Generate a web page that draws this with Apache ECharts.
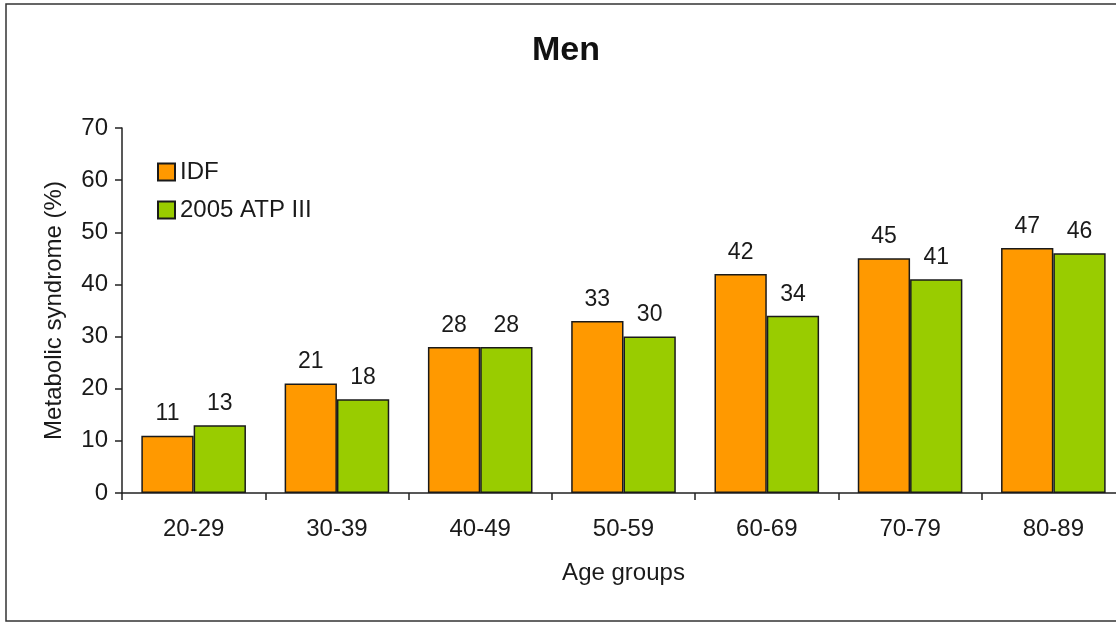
<!DOCTYPE html>
<html>
<head>
<meta charset="utf-8">
<script src="https://cdn.jsdelivr.net/npm/echarts@6/dist/echarts.min.js"></script>
<style>
  html, body { margin: 0; padding: 0; background: #fff; }
  #chart { width: 1116px; height: 623px; }
</style>
</head>
<body>
<div id="chart"></div>
<script>
// Prevalence of metabolic syndrome in men by age group
const ageGroups = ['20-29', '30-39', '40-49', '50-59', '60-69', '70-79', '80-89'];
const idfValues = [11, 21, 28, 33, 42, 45, 47];
const atpValues = [13, 18, 28, 30, 34, 41, 46];
const seriesNames = ['IDF', '2005 ATP III'];

const FONT = '"Liberation Sans", Arial, sans-serif';
const TEXT = '#1a1a1a';

const chart = echarts.init(document.getElementById('chart'));

const valueLabel = {
  show: true,
  position: 'top',
  distance: 10,
  fontFamily: FONT,
  fontSize: 23,
  color: TEXT
};

chart.setOption({
  animation: false,
  backgroundColor: '#fff',
  title: {
    text: 'Men',
    left: 527,
    top: 29,
    textStyle: { fontFamily: FONT, fontSize: 34, fontWeight: 'bold', color: '#111' }
  },
  legend: {
    orient: 'vertical',
    left: 152,
    top: 155,
    itemWidth: 17,
    itemHeight: 17,
    itemGap: 14,
    icon: 'rect',
    textStyle: { fontFamily: FONT, fontSize: 24, color: TEXT },
    data: seriesNames
  },
  graphic: [{
    type: 'rect',
    shape: { x: 6, y: 4, width: 1200, height: 617 },
    style: { fill: 'none', stroke: '#333', lineWidth: 1.5 },
    silent: true,
    z: -1
  }],
  // the plot runs slightly past the right edge of the canvas
  grid: { left: 122, width: 1003, top: 128, bottom: 130, outerBoundsMode: 'none', containLabel: false },
  xAxis: {
    type: 'category',
    data: ageGroups,
    name: 'Age groups',
    nameLocation: 'middle',
    nameGap: 68,
    nameTextStyle: { fontFamily: FONT, fontSize: 24, color: TEXT },
    axisLine: { lineStyle: { color: '#222', width: 1.5 } },
    axisTick: { show: true, alignWithLabel: false, length: 7, lineStyle: { color: '#222', width: 1.5 } },
    axisLabel: { fontFamily: FONT, fontSize: 24, color: TEXT, margin: 24 }
  },
  yAxis: {
    type: 'value',
    min: 0,
    max: 70,
    interval: 10,
    name: 'Metabolic syndrome (%)',
    nameLocation: 'middle',
    nameGap: 56,
    nameTextStyle: { fontFamily: FONT, fontSize: 24, color: TEXT },
    axisLine: { show: true, lineStyle: { color: '#222', width: 1.5 } },
    axisTick: { show: true, length: 7, lineStyle: { color: '#222', width: 1.5 } },
    axisLabel: { fontFamily: FONT, fontSize: 24, color: TEXT, margin: 14 },
    splitLine: { show: false }
  },
  series: [
    {
      name: seriesNames[0],
      type: 'bar',
      data: idfValues,
      barGap: '0%',
      barCategoryGap: '27%',
      itemStyle: { color: '#FF9900', borderColor: '#1a1a1a', borderWidth: 1.5 },
      label: valueLabel
    },
    {
      name: seriesNames[1],
      type: 'bar',
      data: atpValues,
      barGap: '0%',
      barCategoryGap: '27%',
      itemStyle: { color: '#99CC00', borderColor: '#1a1a1a', borderWidth: 1.5 },
      label: valueLabel
    }
  ]
});
</script>
</body>
</html>
